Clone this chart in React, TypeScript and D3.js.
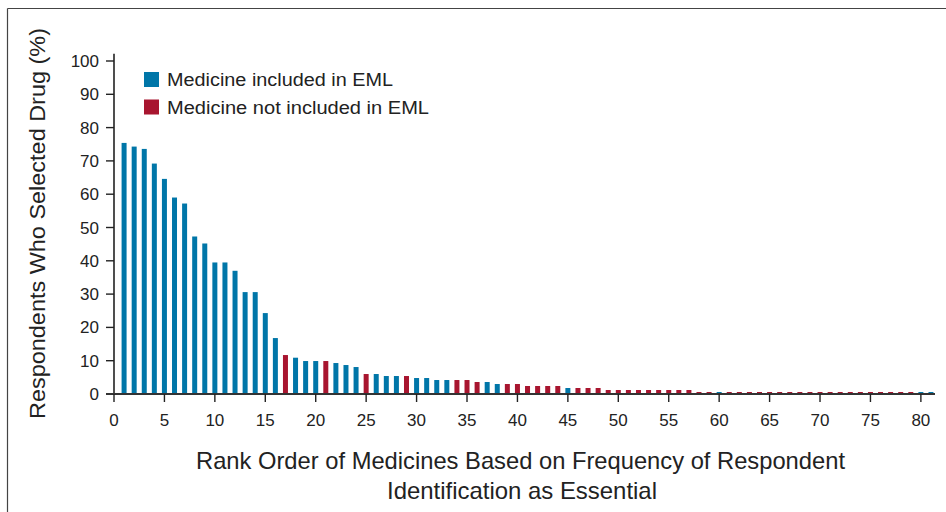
import React from "react";
import * as d3 from "d3";

const ranks: number[] = d3.range(1, 82);
const values: number[] = [
  75.4, 74.3, 73.6, 69.2, 64.6, 59.0, 57.2, 47.3, 45.2, 39.5,
  39.5, 37.0, 30.6, 30.6, 24.3, 16.8, 11.7, 10.9, 9.9, 9.9,
  9.9, 9.3, 8.7, 8.1, 6.0, 6.0, 5.4, 5.4, 5.4, 4.8,
  4.8, 4.2, 4.2, 4.2, 4.2, 3.6, 3.6, 3.0, 3.0, 3.0,
  2.4, 2.4, 2.4, 2.4, 1.8, 1.8, 1.8, 1.8, 1.2, 1.2,
  1.2, 1.2, 1.2, 1.2, 1.2, 1.2, 1.2, 0.6, 0.6, 0.6,
  0.6, 0.6, 0.6, 0.6, 0.6, 0.6, 0.6, 0.6, 0.6, 0.6,
  0.6, 0.6, 0.6, 0.6, 0.6, 0.6, 0.6, 0.6, 0.6, 0.6,
  0.6,
];
// 1 = included in EML, 0 = not included
const inEML: number[] = [
  1, 1, 1, 1, 1, 1, 1, 1, 1, 1,
  1, 1, 1, 1, 1, 1, 0, 1, 1, 1,
  0, 1, 1, 1, 0, 1, 1, 1, 0, 1,
  1, 1, 1, 0, 0, 0, 1, 1, 0, 0,
  0, 0, 0, 0, 1, 0, 0, 0, 0, 0,
  0, 0, 0, 0, 0, 0, 0, 0, 0, 1,
  0, 0, 0, 0, 0, 0, 0, 0, 0, 0,
  0, 0, 0, 0, 0, 0, 0, 0, 0, 1,
  1,
];
const yTicks: number[] = d3.range(0, 101, 10);
const xTicks: number[] = d3.range(0, 81, 5);
const legendLabels: string[] = ["Medicine included in EML", "Medicine not included in EML"];
const yTitle = "Respondents Who Selected Drug (%)";
const xTitle: string[] = [
  "Rank Order of Medicines Based on Frequency of Respondent",
  "Identification as Essential",
];

const BLUE = "#0076a8";
const RED = "#a8152f";
const TEXT = "#222";
const FONT = "'Liberation Sans', Arial, Helvetica, sans-serif";
const NARROW = "'Liberation Sans Narrow', 'Liberation Sans', Arial, sans-serif";

export default function App() {
  const W = 946;
  const H = 512;
  const x = d3.scaleLinear().domain([0, 81.4]).range([114, 935]);
  const y = d3.scaleLinear().domain([0, 100]).range([394, 61]);
  const barW = 5;

  return (
    <svg
      width={W}
      height={H}
      style={{ position: "absolute", left: 0, top: 0, background: "#fff" }}
    >
      <rect x={0} y={0} width={W} height={H} fill="#fff" />
      {/* frame */}
      <line x1={7.5} y1={8.5} x2={W} y2={8.5} stroke="#444" strokeWidth={1.2} />
      <line x1={7.5} y1={8.5} x2={7.5} y2={H} stroke="#444" strokeWidth={1.2} />

      {/* bars */}
      {ranks.map((r, i) => (
        <rect
          key={r}
          x={x(r) - barW / 2}
          y={y(values[i])}
          width={barW}
          height={y(0) - y(values[i])}
          fill={inEML[i] ? BLUE : RED}
        />
      ))}

      {/* y axis */}
      <line x1={114} y1={y(102.2)} x2={114} y2={y(0)} stroke="#222" strokeWidth={1.6} />
      {yTicks.map((t) => (
        <g key={t}>
          <line x1={106} x2={114} y1={y(t)} y2={y(t)} stroke="#222" strokeWidth={1.4} />
          <text
            x={99}
            y={y(t) + 6}
            textAnchor="end"
            fontFamily={FONT}
            fontSize={17}
            fill={TEXT}
          >
            {t}
          </text>
        </g>
      ))}

      {/* x axis */}
      <line x1={106} x2={935} y1={y(0)} y2={y(0)} stroke="#333" strokeWidth={2} />
      {xTicks.map((t) => (
        <g key={t}>
          <line x1={x(t)} x2={x(t)} y1={y(0)} y2={y(0) + 8} stroke="#222" strokeWidth={1.4} />
          <text
            x={x(t)}
            y={426}
            textAnchor="middle"
            fontFamily={FONT}
            fontSize={17}
            fill={TEXT}
          >
            {t}
          </text>
        </g>
      ))}

      {/* legend */}
      {legendLabels.map((lab, i) => (
        <g key={lab}>
          <rect x={144} y={72 + i * 27.5} width={15} height={15} fill={i === 0 ? BLUE : RED} />
          <text
            x={167}
            y={86 + i * 27.5}
            fontFamily={FONT}
            fontSize={18}
            fill={TEXT}
            textLength={i === 0 ? 226 : 262}
            lengthAdjust="spacingAndGlyphs"
          >
            {lab}
          </text>
        </g>
      ))}

      {/* y title */}
      <text
        transform={`translate(45,${(28 + 419) / 2}) rotate(-90)`}
        textAnchor="middle"
        fontFamily={FONT}
        fontSize={22}
        fill={TEXT}
        textLength={391}
        lengthAdjust="spacingAndGlyphs"
      >
        {yTitle}
      </text>

      {/* x title */}
      <text
        x={520.5}
        y={469}
        textAnchor="middle"
        fontFamily={NARROW}
        fontSize={24}
        fill={TEXT}
        textLength={649}
        lengthAdjust="spacingAndGlyphs"
      >
        {xTitle[0]}
      </text>
      <text
        x={522}
        y={499}
        textAnchor="middle"
        fontFamily={NARROW}
        fontSize={24}
        fill={TEXT}
        textLength={270}
        lengthAdjust="spacingAndGlyphs"
      >
        {xTitle[1]}
      </text>
    </svg>
  );
}
